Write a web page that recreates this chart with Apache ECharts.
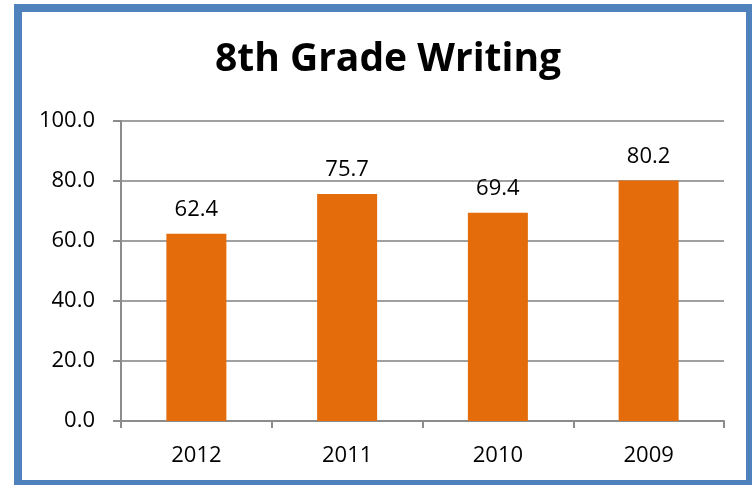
<!DOCTYPE html>
<html><head><meta charset="utf-8">
<script src="https://cdn.jsdelivr.net/npm/echarts@6/dist/echarts.min.js"></script>
<style>
html,body{margin:0;padding:0;background:#fff;}
#frame{position:absolute;left:14px;top:4px;width:738px;height:481px;box-sizing:border-box;border:8px solid #4F81BD;border-right-width:6px;border-bottom-width:5px;}
#c{position:absolute;left:0;top:0;width:754px;height:487px;}
</style></head>
<body>
<div id="frame"></div>
<div id="c"></div>
<script>
const categories = ["2012", "2011", "2010", "2009"];
const scores = [62.4, 75.7, 69.4, 80.2];
const titleText = "8th Grade Writing";

const chart = echarts.init(document.getElementById('c'), null, {renderer:'canvas'});
const font = "'Open Sans', 'Noto Sans', sans-serif";
chart.setOption({
  animation:false,
  title:{text:titleText,left:383,textAlign:'center',top:35,textStyle:{fontFamily:font,fontWeight:'bold',fontSize:39,color:'#000'}},
  grid:{left:121,right:30,top:121,bottom:66,containLabel:false},
  xAxis:{type:'category',data:categories,
    axisLine:{lineStyle:{color:'#8c8c8c',width:2}},
    axisTick:{show:true,length:7,alignWithLabel:false,lineStyle:{color:'#8c8c8c',width:2}},
    axisLabel:{fontFamily:font,fontSize:22,color:'#000',margin:24}},
  yAxis:{type:'value',min:0,max:100,interval:20,
    axisLine:{show:true,lineStyle:{color:'#8c8c8c',width:2}},
    axisTick:{show:true,length:8,lineStyle:{color:'#8c8c8c',width:2}},
    splitLine:{lineStyle:{color:'#a0a0a0',width:2}},
    axisLabel:{fontFamily:font,fontSize:22,color:'#000',margin:26,formatter:v=>v.toFixed(1)}},
  series:[{type:'bar',data:scores,barWidth:60,
    itemStyle:{color:'#E46C0A'},
    label:{show:true,position:'top',distance:13,fontFamily:font,fontSize:22,color:'#000',formatter:p=>p.value.toFixed(1)}}]
});
</script>
</body></html>
